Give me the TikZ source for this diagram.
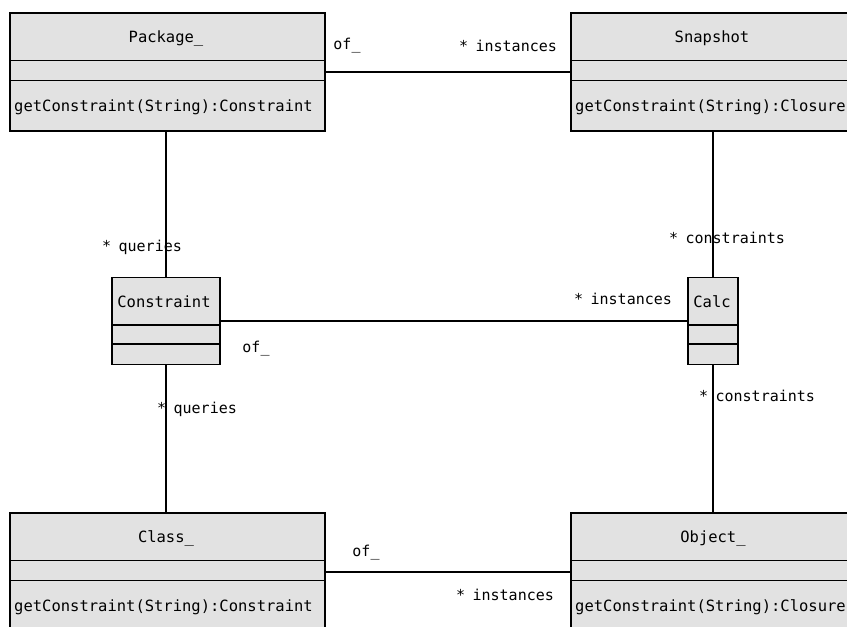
\documentclass[tikz,border=0pt]{standalone}
\usepackage{fontspec}
\setmainfont{DejaVu Sans Mono}
\begin{document}
\begin{tikzpicture}[x=1pt,y=-1pt,
  umlbox/.style={draw=black,line width=1.5pt,fill=boxgray,rectangle,inner sep=0pt},
  title/.style={inner sep=0pt,font=\fontsize{15.5}{18}\selectfont,text height=11pt,text depth=0pt},
  method/.style={inner sep=0pt,anchor=west,font=\fontsize{15.5}{18}\selectfont,text height=11pt,text depth=0pt},
  lbl/.style={inner sep=0pt,font=\fontsize{15}{18}\selectfont,text height=8pt,text depth=0pt},
  conn/.style={draw=black,line width=1.5pt}]
\definecolor{boxgray}{RGB}{226,226,226}
\useasboundingbox (0,0) rectangle (847,627);
\clip (0,0) rectangle (847,627);
\fill[white] (0,0) rectangle (847,627);
\newcommand{\multlbl}[1]{*\hspace{7.5pt}#1}
% boxes
\node[umlbox,minimum width=315pt,minimum height=118pt] (pkg) at (167.5,72) {};
\node[umlbox,minimum width=284pt,minimum height=118pt] (snap) at (713,72) {};
\node[umlbox,minimum width=108pt,minimum height=87pt] (cons) at (166,321) {};
\node[umlbox,minimum width=50pt,minimum height=87pt] (calc) at (713,321) {};
\node[umlbox,minimum width=315pt,minimum height=118pt] (cls) at (167.5,572) {};
\node[umlbox,minimum width=284pt,minimum height=118pt] (obj) at (713,572) {};
% compartments
\foreach \b in {pkg,snap,cls,obj}{
  \draw[conn] ([yshift=-48pt]\b.north west) -- ([yshift=-48pt]\b.north east);
  \draw[conn] ([yshift=-68pt]\b.north west) -- ([yshift=-68pt]\b.north east);
}
\foreach \b in {cons,calc}{
  \draw[conn] ([yshift=-48pt]\b.north west) -- ([yshift=-48pt]\b.north east);
  \draw[conn] ([yshift=-67pt]\b.north west) -- ([yshift=-67pt]\b.north east);
}
% texts
\node[title] (pkgT) at (166,37) {Package\_};
\node[method] (pkgM) at (14,106) {getConstraint(String):Constraint};
\node[title] (snapT) at (712,37) {Snapshot};
\node[method] (snapM) at (575,106) {getConstraint(String):Closure};
\node[title] (consT) at (164,302) {Constraint};
\node[title] (calcT) at (712,302) {Calc};
\node[title] (clsT) at (166,537) {Class\_};
\node[method] (clsM) at (14,606) {getConstraint(String):Constraint};
\node[title] (objT) at (713,537) {Object\_};
\node[method] (objM) at (575,606) {getConstraint(String):Closure};
% connectors
\draw[conn] (pkg.east) -- (snap.west);
\draw[conn] (pkg.south -| cons.north) -- (cons.north);
\draw[conn] (snap.south -| calc.north) -- (calc.north);
\draw[conn] (cons.east) -- (calc.west);
\draw[conn] (cons.south) -- (cons.south |- cls.north);
\draw[conn] (calc.south) -- (calc.south |- obj.north);
\draw[conn] (cls.east) -- (obj.west);
% labels
\node[lbl] (l1) at (347,45) {of\_};
\node[lbl] (l2) at (508,47) {\multlbl{instances}};
\node[lbl] (l3) at (142,247) {\multlbl{queries}};
\node[lbl] (l4) at (256,348) {of\_};
\node[lbl] (l5) at (197,409) {\multlbl{queries}};
\node[lbl] (l6) at (727,239) {\multlbl{constraints}};
\node[lbl] (l7) at (623,300) {\multlbl{instances}};
\node[lbl] (l8) at (757,397) {\multlbl{constraints}};
\node[lbl] (l9) at (366,552) {of\_};
\node[lbl] (l10) at (505,596) {\multlbl{instances}};
\end{tikzpicture}
\end{document}
